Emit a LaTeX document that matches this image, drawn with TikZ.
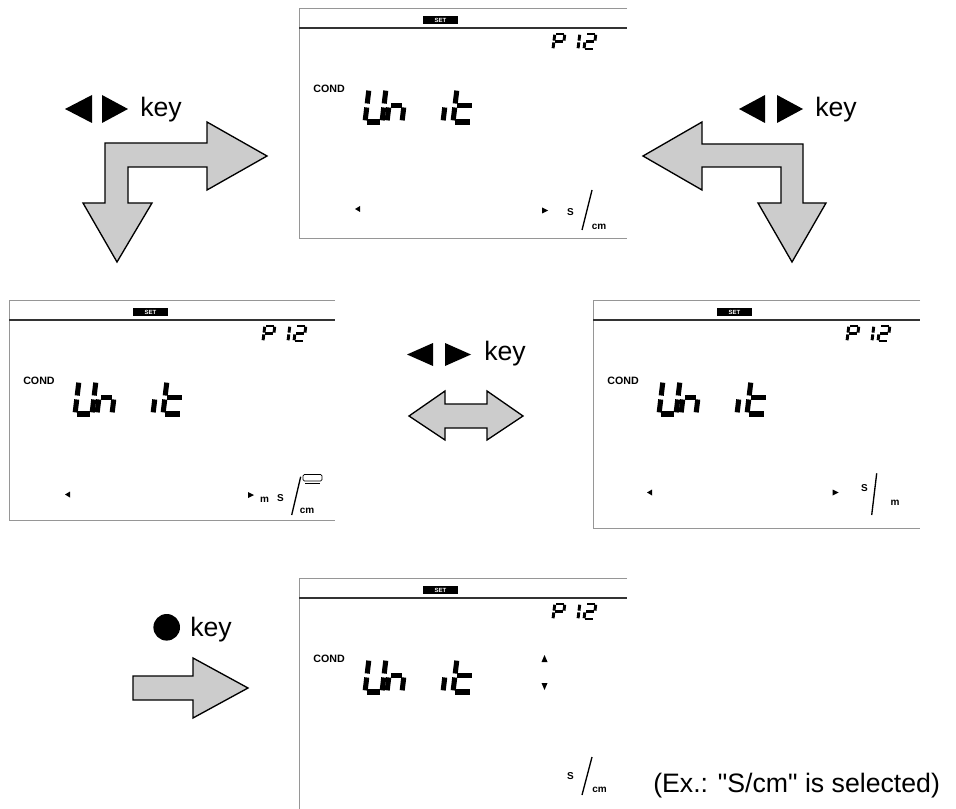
\documentclass[tikz,border=0pt]{standalone}
\usepackage{fontspec}
\setmainfont{Liberation Sans}
\definecolor{arrowgray}{RGB}{204,204,204}
\definecolor{framegray}{RGB}{150,150,150}
\newcommand\sq{\XeTeXglyph\XeTeXcharglyph"22\relax}
\newcommand\SgA{\draw (0.12,-1)--(0.88,-1);}
\newcommand\SgB{\draw (1,-0.95)--(1,-0.56);}
\newcommand\SgC{\draw (1,-0.44)--(1,-0.05);}
\newcommand\SgD{\draw (0.12,0)--(0.88,0);}
\newcommand\SgE{\draw (0,-0.44)--(0,-0.05);}
\newcommand\SgF{\draw (0,-0.95)--(0,-0.56);}
\newcommand\SgG{\draw (0.12,-0.5)--(0.88,-0.5);}
\newcommand\sevdigit[6]{%
  \begin{scope}[shift={(#1,#2)},xslant=0.12,xscale=#3,yscale=#4,line width=#5,line cap=butt]
  #6
  \end{scope}}
\newcommand\lcdbase[5]{%
  \begin{scope}[shift={(#1,#2)}]
    \draw[framebox] (#3,0) -- (0,0) -- (0,#4) -- (#3,#4);
    \draw[topbar] (0,20) -- (#3,20);
    \node[setbox] (#5set) at (141.5,12) {SET};
    \node[condlbl] (#5cond) at (30,80.5) {COND};
    \sevdigit{254}{41}{10}{15}{2.2pt}{\SgA\SgB\SgF\SgG\SgE}
    \sevdigit{269}{41}{10}{15}{2.2pt}{\SgB\SgC}
    \sevdigit{285}{41}{10}{15}{2.2pt}{\SgA\SgB\SgG\SgE\SgD}
    \sevdigit{66}{114}{17}{33}{3.8pt}{\SgF\SgE\SgD\SgB\SgC}
    \sevdigit{88}{114}{15}{33}{3.8pt}{\SgG\SgE\SgC}
    \sevdigit{144}{114}{10}{33}{3.8pt}{\SgE}
    \sevdigit{154}{114}{19}{33}{3.8pt}{\SgF\SgE\SgG\SgD}
  \end{scope}}
\begin{document}
\begin{tikzpicture}[x=0.75pt,y=-0.75pt,
  blockarrow/.style={fill=arrowgray,draw=black,line width=1pt,line join=miter},
  keylbl/.style={font=\fontsize{20}{23}\selectfont,inner sep=0pt,anchor=base west},
  keytri/.style={fill=black},
  framebox/.style={draw=framegray,line width=0.7pt},
  topbar/.style={draw=black!80,line width=1.5pt},
  setbox/.style={fill=black,text=white,font=\fontsize{4.5}{5}\selectfont\bfseries,
    minimum width=26.25pt,minimum height=6pt,inner sep=0pt},
  condlbl/.style={font=\fontsize{8}{9}\selectfont\bfseries,inner sep=0pt},
  unitlbl/.style={font=\fontsize{7.5}{8}\selectfont\bfseries,inner sep=0pt},
  mini/.style={fill=black},
  slashline/.style={draw=black,line width=1pt}]
\useasboundingbox (0,0) rectangle (956,809);

% ---------- LCD panels ----------
\lcdbase{299}{8}{328}{230}{top}
\begin{scope}[shift={(299,8)}]
  \fill[mini] (56,201) -- (61,198) -- (61,204) -- cycle;
  \fill[mini] (249,202.5) -- (243,199.5) -- (243,205.5) -- cycle;
  \node[unitlbl] (tops) at (271.5,204.5) {S};
  \draw[slashline] (293,182) -- (283,222);
  \node[unitlbl] (topcm) at (300,219) {cm};
\end{scope}

\lcdbase{9}{300}{326}{220}{left}
\begin{scope}[shift={(9,300)}]
  \fill[mini] (56,194.5) -- (61,191.5) -- (61,197.5) -- cycle;
  \fill[mini] (245,195) -- (239,192) -- (239,198) -- cycle;
  \node[unitlbl] (leftm) at (255.5,199.5) {m};
  \node[unitlbl] (lefts) at (271.5,198.5) {S};
  \draw[slashline] (291.7,176.7) -- (282.7,215);
  \draw[draw=black,line width=0.5pt,rounded corners=1pt] (294,174.5) rectangle (313,181);
  \draw[draw=black,line width=0.4pt] (296,183) -- (311,183);
  \node[unitlbl] (leftcm) at (298,211) {cm};
\end{scope}

\lcdbase{593}{300}{327}{228}{right}
\begin{scope}[shift={(593,300)}]
  \fill[mini] (54,192.5) -- (59,189.5) -- (59,195.5) -- cycle;
  \fill[mini] (245.5,192.5) -- (239.5,189.5) -- (239.5,195.5) -- cycle;
  \node[unitlbl] (rights) at (271.5,188) {S};
  \draw[slashline] (283.7,173.3) -- (278.7,215);
  \node[unitlbl] (rightm) at (302,202.5) {m};
\end{scope}

\lcdbase{299}{578}{328}{245}{bot}
\begin{scope}[shift={(299,578)}]
  \fill[mini] (245.5,77) -- (248.5,84) -- (242.5,84) -- cycle;
  \fill[mini] (245.5,112) -- (248.5,105) -- (242.5,105) -- cycle;
  \node[unitlbl] (bots) at (271.5,198.5) {S};
  \draw[slashline] (293,179) -- (283,217);
  \node[unitlbl] (botcm) at (300.5,211.5) {cm};
\end{scope}

% ---------- block arrows ----------
\draw[blockarrow] (105,143) -- (207,143) -- (207,122) -- (267,156) -- (207,190) -- (207,167)
  -- (128,167) -- (128,203) -- (152,203) -- (117,262) -- (83,203) -- (105,203) -- cycle;
\draw[blockarrow] (643,156) -- (702,122) -- (702,144) -- (803,144) -- (803,203) -- (826,203)
  -- (792,262) -- (758,203) -- (781,203) -- (781,167) -- (702,167) -- (702,190) -- cycle;
\draw[blockarrow] (409,416) -- (445,391) -- (445,404) -- (487,404) -- (487,391) -- (523,416)
  -- (487,440) -- (487,428) -- (445,428) -- (445,440) -- cycle;
\draw[blockarrow] (133,676) -- (193,676) -- (193,658) -- (248,688) -- (193,718) -- (193,700)
  -- (133,700) -- cycle;

% ---------- key labels ----------
\fill[keytri] (65,109) -- (92,95) -- (92,123) -- cycle;
\fill[keytri] (102,95) -- (102,123) -- (128,109) -- cycle;
\node[keylbl] (keytl) at (140,117) {key};

\fill[keytri] (739,109) -- (765,95) -- (765,123) -- cycle;
\fill[keytri] (777,95) -- (777,123) -- (803,109) -- cycle;
\node[keylbl] (keytr) at (815,117) {key};

\fill[keytri] (407,354.5) -- (433,343) -- (433,366) -- cycle;
\fill[keytri] (445,343) -- (445,366) -- (471,354.5) -- cycle;
\node[keylbl] (keymid) at (484,360) {key};

\fill[keytri] (166.7,627.3) circle[radius=13.3];
\node[keylbl] (keybot) at (190,636) {key};

\node[keylbl] (note) at (653,792) {(Ex.: \sq S/cm\sq{} is selected)};
\end{tikzpicture}
\end{document}
